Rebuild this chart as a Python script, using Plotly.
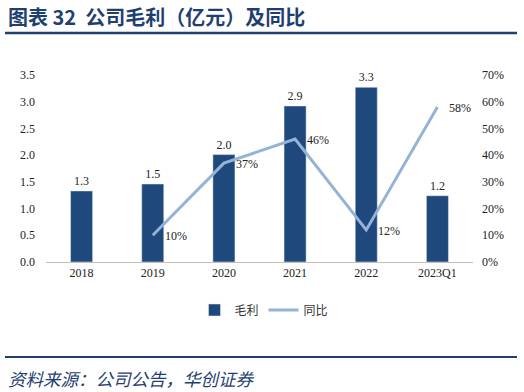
import plotly.graph_objects as go

categories = ["2018", "2019", "2020", "2021", "2022", "2023Q1"]
gross_profit = [1.33, 1.46, 2.01, 2.92, 3.27, 1.24]
gp_labels = ["1.3", "1.5", "2.0", "2.9", "3.3", "1.2"]
yoy_cats = ["2019", "2020", "2021", "2022", "2023Q1"]
yoy = [0.10, 0.37, 0.46, 0.12, 0.58]
yoy_labels = ["10%", "37%", "46%", "12%", "58%"]

serif = "Liberation Serif, Times New Roman, serif"
cjk = "Noto Sans CJK SC, sans-serif"
dark = "#1F3F73"

W, H = 524, 392
PL, PR, PT, PB = 46, 473, 75, 262  # plot area in pixels


def px(X):
    return (X - PL) / (PR - PL)


def py(Y):
    return (PB - Y) / (PB - PT)


x_bar = list(range(len(categories)))
x_yoy = [categories.index(c) for c in yoy_cats]

fig = go.Figure()
fig.add_trace(go.Bar(
    x=x_bar, y=gross_profit, name="毛利",
    marker_color="#1F497D", width=0.31,
    text=gp_labels, textposition="outside", cliponaxis=False,
    textfont=dict(family=serif, size=12, color="#222"),
))
fig.add_trace(go.Scatter(
    x=x_yoy, y=yoy, name="同比", yaxis="y2",
    mode="lines", line=dict(color="#95B3D7", width=3),
))
for xi, v, t in zip(x_yoy, yoy, yoy_labels):
    fig.add_annotation(x=xi, y=v, xref="x", yref="y2", text=t, showarrow=False,
                       xanchor="left", yanchor="middle", xshift=10, yshift=-1,
                       font=dict(family=serif, size=12, color="#222"))

fig.update_layout(
    width=W, height=H,
    margin=dict(l=PL, r=W - PR, t=PT, b=H - PB, autoexpand=False),
    paper_bgcolor="white", plot_bgcolor="white",
    showlegend=True,
    legend=dict(orientation="h", x=px(264), xanchor="center",
                y=py(310), yanchor="middle",
                font=dict(family=cjk, size=12, color="#333")),
    xaxis=dict(range=[-0.5, len(categories) - 0.5], tickvals=x_bar, ticktext=categories,
               showline=True, linecolor="#BFBFBF", linewidth=1, ticks="",
               zeroline=False,
               tickfont=dict(family=serif, size=12, color="#222"), showgrid=False),
    yaxis=dict(range=[0, 3.5], dtick=0.5, tickformat=".1f", showgrid=False,
               zeroline=False, showline=False,
               tickfont=dict(family=serif, size=12, color="#222"), ticklabelstandoff=10),
    yaxis2=dict(range=[0, 0.7], dtick=0.1, tickformat=".0%", overlaying="y", side="right",
                showgrid=False, zeroline=False, showline=False,
                tickfont=dict(family=serif, size=12, color="#222"), ticklabelstandoff=8),
)

fig.add_annotation(text="<b>图表 32  公司毛利（亿元）及同比</b>", xref="paper", yref="paper",
                   xanchor="left", yanchor="middle",
                   x=px(6), y=py(16), showarrow=False,
                   font=dict(family=cjk, size=20, color=dark))
fig.add_annotation(text="<i>资料来源：公司公告，华创证券</i>", xref="paper", yref="paper",
                   xanchor="left", yanchor="middle",
                   x=px(6), y=py(378), showarrow=False,
                   font=dict(family=cjk, size=17.5, color=dark))
fig.add_shape(type="line", xref="paper", yref="paper",
              x0=px(5), x1=px(517), y0=py(33), y1=py(33),
              line=dict(color=dark, width=2.5))
fig.add_shape(type="line", xref="paper", yref="paper",
              x0=px(5), x1=px(517), y0=py(357), y1=py(357),
              line=dict(color=dark, width=2))

fig.write_html("out.html", config={"displayModeBar": False},
               post_script="document.body.style.margin='0';")
